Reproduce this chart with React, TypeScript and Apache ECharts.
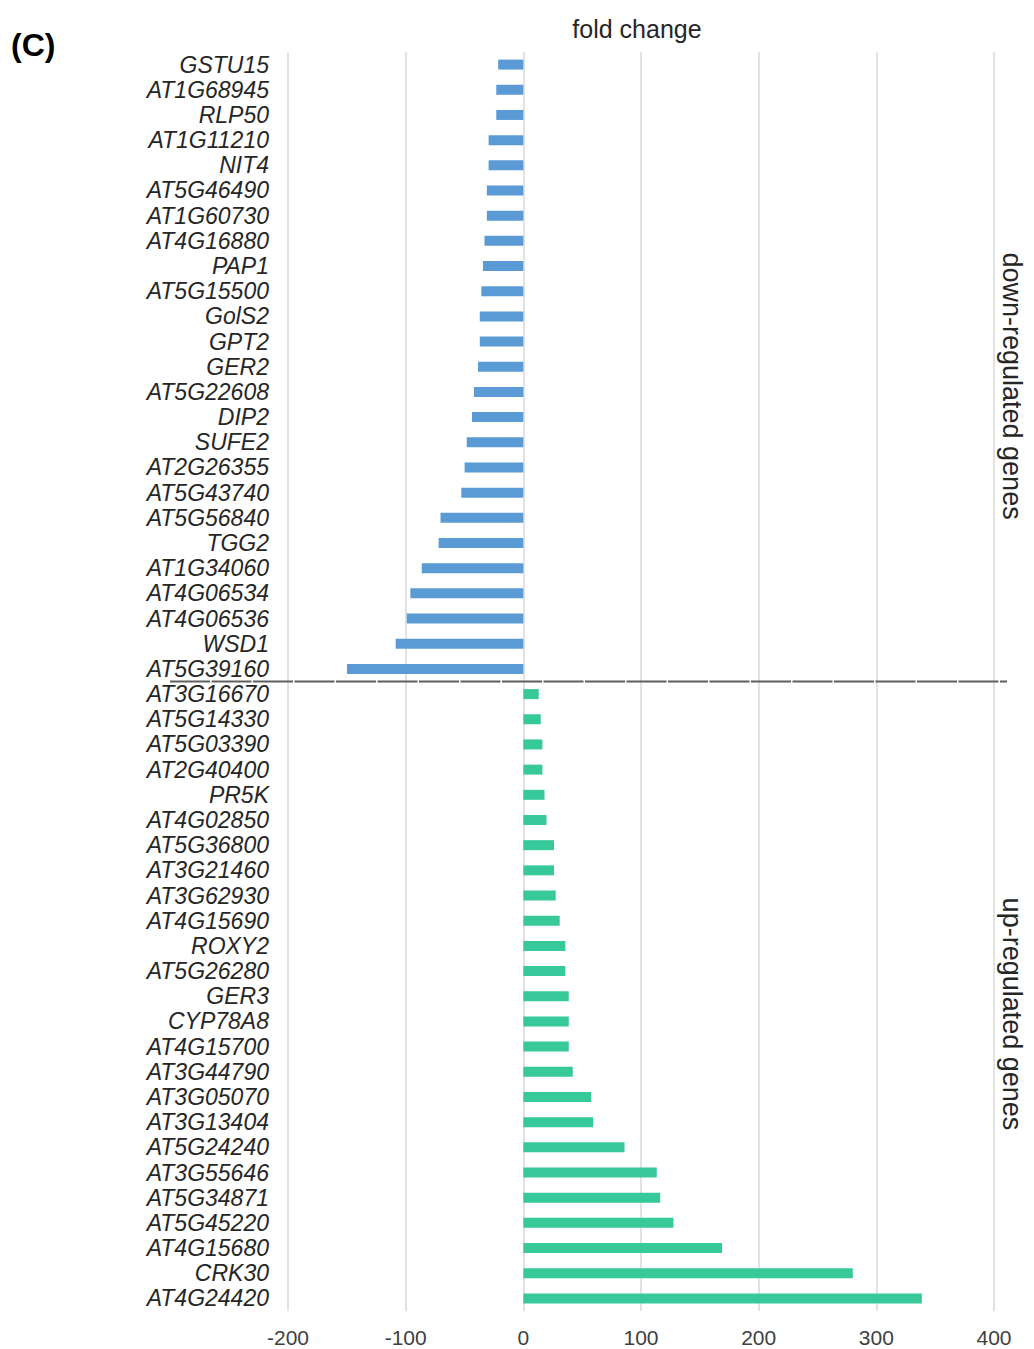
import React, { useEffect, useRef } from "react";
import * as echarts from "echarts";

const downGenes = [
  "GSTU15", "AT1G68945", "RLP50", "AT1G11210", "NIT4", "AT5G46490", "AT1G60730",
  "AT4G16880", "PAP1", "AT5G15500", "GolS2", "GPT2", "GER2", "AT5G22608", "DIP2",
  "SUFE2", "AT2G26355", "AT5G43740", "AT5G56840", "TGG2", "AT1G34060", "AT4G06534",
  "AT4G06536", "WSD1", "AT5G39160",
];
const downValues = [
  -21.4, -23, -23, -29.5, -29.5, -31, -31, -33, -34.3, -35.7, -37, -37, -38.5, -41.9,
  -43.6, -48.1, -49.9, -52.7, -70.4, -72, -86.3, -96, -99.1, -108.5, -149.9,
];
const upGenes = [
  "AT3G16670", "AT5G14330", "AT5G03390", "AT2G40400", "PR5K", "AT4G02850", "AT5G36800",
  "AT3G21460", "AT3G62930", "AT4G15690", "ROXY2", "AT5G26280", "GER3", "CYP78A8",
  "AT4G15700", "AT3G44790", "AT3G05070", "AT3G13404", "AT5G24240", "AT3G55646",
  "AT5G34871", "AT5G45220", "AT4G15680", "CRK30", "AT4G24420",
];
const upValues = [
  13.1, 14.8, 16.2, 16.2, 18, 19.7, 26.1, 26.1, 27.5, 30.9, 35.7, 35.7, 38.6, 38.6,
  38.6, 42, 57.7, 59.4, 86, 113.4, 116.3, 127.6, 168.9, 280, 338.7,
];
const xTicks = { min: -200, max: 400, interval: 100 };
const titleText = "fold change";
const panelLabel = "(C)";
const downLabel = "down-regulated genes";
const upLabel = "up-regulated genes";

const FONT = "'Liberation Sans', Arial, sans-serif";

export default function App() {
  const ref = useRef<HTMLDivElement>(null);

  useEffect(() => {
    if (!ref.current) return;
    const chart = echarts.init(ref.current, null, { renderer: "svg" });
    const categories = [...downGenes, ...upGenes];
    const downData = [...downValues, ...upGenes.map(() => null)];
    const upData = [...downGenes.map(() => null), ...upValues];

    chart.setOption({
      animation: false,
      backgroundColor: "#ffffff",
      grid: { left: 288, right: 40, top: 52, bottom: 38, containLabel: false },
      xAxis: {
        type: "value",
        min: xTicks.min,
        max: xTicks.max,
        interval: xTicks.interval,
        axisLine: { show: false },
        axisTick: { show: false },
        splitLine: { show: true, lineStyle: { color: "#d9d9d9", width: 1.5 } },
        axisLabel: { fontSize: 21, color: "#404040", fontFamily: FONT, margin: 16 },
      },
      yAxis: {
        type: "category",
        inverse: true,
        data: categories,
        axisLine: { show: false },
        axisTick: { show: false },
        splitLine: { show: false },
        axisLabel: {
          fontSize: 23,
          fontStyle: "italic",
          color: "#262626",
          fontFamily: FONT,
          margin: 19,
          interval: 0,
        },
      },
      series: [
        {
          name: "down",
          type: "bar",
          stack: "all",
          data: downData,
          barWidth: 10,
          itemStyle: { color: "#5B9BD5" },
        },
        {
          name: "up",
          type: "bar",
          stack: "all",
          data: upData,
          barWidth: 10,
          itemStyle: { color: "#37C99A" },
        },
      ],
    });

    const yA = chart.convertToPixel({ yAxisIndex: 0 }, downGenes[downGenes.length - 1]) as number;
    const yB = chart.convertToPixel({ yAxisIndex: 0 }, upGenes[0]) as number;
    const sepY = (yA + yB) / 2;
    const downTop = chart.convertToPixel({ yAxisIndex: 0 }, downGenes[0]) as number;
    const upBottom = chart.convertToPixel({ yAxisIndex: 0 }, upGenes[upGenes.length - 1]) as number;
    const xLeft = chart.convertToPixel({ xAxisIndex: 0 }, xTicks.min) as number;
    const xRight = chart.convertToPixel({ xAxisIndex: 0 }, xTicks.max) as number;

    chart.setOption({
      graphic: [
        {
          type: "line",
          shape: { x1: 170, y1: sepY, x2: xRight + 13, y2: sepY },
          style: { stroke: "#5f5f5f", lineWidth: 2, lineDash: [40, 1.5] },
          z: 10,
        },
        {
          type: "text",
          x: (xLeft + xRight) / 2 - 4,
          y: 29,
          style: {
            text: titleText,
            font: `25px ${FONT}`,
            fill: "#262626",
            textAlign: "center",
            textVerticalAlign: "middle",
          },
        },
        {
          type: "text",
          x: 11,
          y: 45,
          style: {
            text: panelLabel,
            font: `bold 32px ${FONT}`,
            fill: "#000000",
            textAlign: "left",
            textVerticalAlign: "middle",
          },
        },
        {
          type: "text",
          x: 1012,
          y: (downTop + sepY) / 2 + 13,
          rotation: -Math.PI / 2,
          style: {
            text: downLabel,
            font: `27px ${FONT}`,
            fill: "#262626",
            textAlign: "center",
            textVerticalAlign: "middle",
          },
        },
        {
          type: "text",
          x: 1012,
          y: (sepY + upBottom) / 2 + 24,
          rotation: -Math.PI / 2,
          style: {
            text: upLabel,
            font: `27px ${FONT}`,
            fill: "#262626",
            textAlign: "center",
            textVerticalAlign: "middle",
          },
        },
      ],
    });

    return () => chart.dispose();
  }, []);

  return (
    <div
      ref={ref}
      style={{ position: "absolute", left: 0, top: 0, width: 1034, height: 1349, background: "#fff" }}
    />
  );
}
